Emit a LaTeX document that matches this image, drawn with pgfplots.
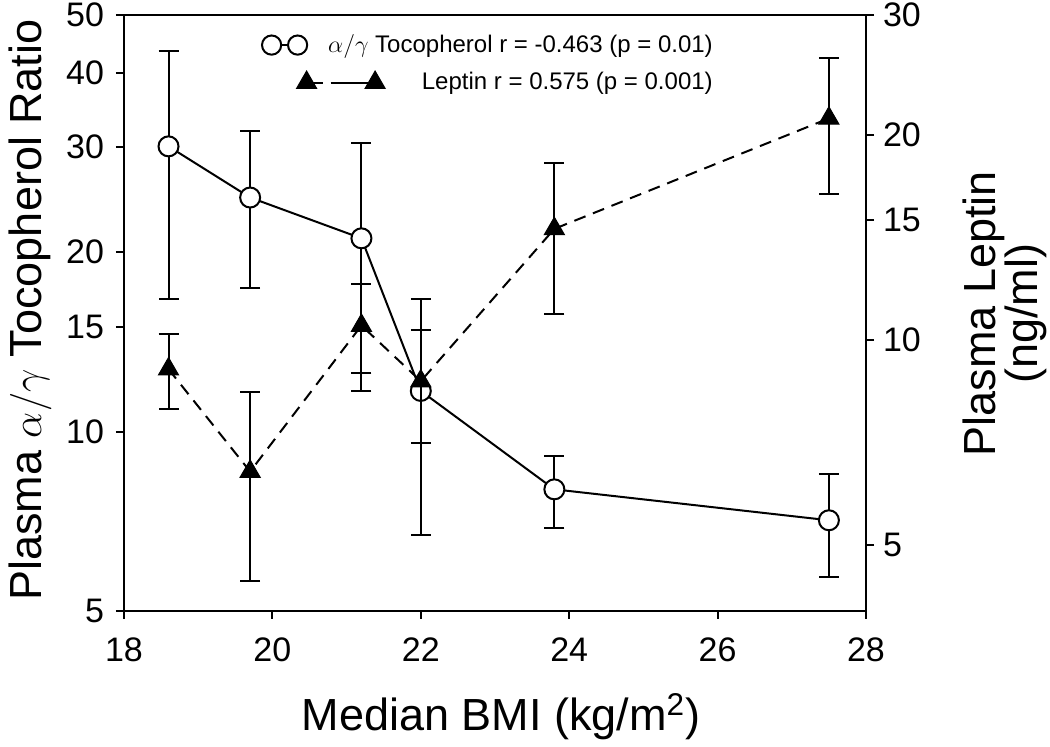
\documentclass[border=0pt]{standalone}
\usepackage{pgfplots}
\usepackage{pgfplotstable}
\pgfplotsset{compat=1.18}
\usepackage{fontspec}
\setmainfont{Liberation Sans}

\pgfplotstableread{
x     toc   tocerr  lep    leperr
18.6  30.1  13.4    9.06   1.13
19.7  24.7  7.3     6.41   1.99
21.2  21.1  9.4     10.5   1.57
22.0  11.7  5.0     8.70   1.65
23.8  8.0   1.1     14.56  3.64
27.5  7.1   1.4     21.15  4.76
}\datatable

\pgfplotsset{
  /pgfplots/mycommonstyle/.style={
    scale only axis, width=371pt, height=298pt,
    xmin=18, xmax=28,
    yminorticks=false,
    tick align=outside, major tick length=4pt,
    axis line style={line width=1pt, black},
    major tick style={line width=1pt, black},
    tick label style={font=\fontsize{17}{17}\selectfont},
    label style={font=\fontsize{22.5}{21}\selectfont},
    /pgf/number format/assume math mode=true,
    clip=false,
  },
}

\begin{document}
\begin{tikzpicture}
\useasboundingbox (-62pt,-67.5pt) rectangle (463pt,305.5pt);
\begin{axis}[mycommonstyle, ymode=log,
  ymin=5, ymax=50,
  xtick={18,20,22,24,26,28}, xticklabels={18,20,22,24,26,28},
  ytick={5,10,15,20,30,40,50}, yticklabels={5,10,15,20,30,40,50},
  xtick pos=left, ytick pos=left,
  xticklabel style={yshift=-6pt},
  yticklabel style={xshift=-2.5pt},
  xlabel={Median BMI (kg/m\textsuperscript{2})},
  ylabel={Plasma $\alpha/\gamma$ Tocopherol Ratio},
  xlabel style={at={(axis description cs:0.508,-0.178)}, anchor=center},
  ylabel style={at={(axis description cs:-0.1267,0.505)}, anchor=center},
]
\addplot[black, line width=1pt, mark=*, mark size=5pt,
  mark options={fill=white, draw=black, line width=1pt},
  error bars/.cd, y dir=both, y explicit,
  error bar style={line width=1pt, black},
  error mark options={rotate=90, line width=1pt, mark size=5pt, black}]
  table[x=x, y=toc, y error=tocerr] {\datatable};
\end{axis}
\begin{axis}[mycommonstyle, ymode=log,
  ymin=4, ymax=30,
  axis y line*=right, hide x axis,
  ytick={5,10,15,20,30}, yticklabels={5,10,15,20,30},
  yticklabel style={xshift=1pt},
  ylabel={Plasma Leptin\\(ng/ml)},
  ylabel style={at={(axis description cs:1.187,0.499)}, anchor=center, align=center},
  legend cell align=right,
  legend style={at={(axis description cs:0.794,0.968)}, anchor=north east,
    draw=none, fill=none, inner sep=0pt,
    nodes={inner sep=0pt},
    font=\fontsize{12}{12}\selectfont,
    row sep=8pt,
    /tikz/every odd column/.append style={column sep=10pt}},
]
\addlegendimage{legend image code/.code={
  \draw[black, solid, line width=1pt] (10pt,0pt) -- (13pt,0pt);
  \draw[black, solid, line width=1pt, fill=white] (5pt,0pt) circle[radius=4.8pt];
  \draw[black, solid, line width=1pt, fill=white] (18pt,0pt) circle[radius=4.8pt];
}}
\addlegendentry{$\alpha/\gamma$ Tocopherol r = -0.463 (p = 0.01)}
\addlegendimage{legend image code/.code={
  \path[draw=none, fill=none] (0pt,-5.5pt) rectangle (23pt,5.5pt);
  \draw[overlay, black, line width=1pt, dash pattern=on 8pt off 4pt on 20pt off 4pt]
    (22.5pt,0pt) -- (56.75pt,0pt);
  \draw[overlay, black, line width=0.5pt, solid, fill=black,
    mark=triangle*, mark size=5.8pt, mark options={solid, fill=black}]
    plot[only marks] coordinates {(22.5pt,0pt) (56.75pt,0pt)};
}}
\addlegendentry{Leptin r = 0.575 (p = 0.001)}
\addplot[forget plot, black, line width=1pt, dash pattern=on 6pt off 4pt,
  mark=triangle*, mark size=5.8pt,
  mark options={solid, fill=black, draw=black, line width=0.5pt},
  error bars/.cd, y dir=both, y explicit,
  error bar style={line width=1pt, black, solid},
  error mark options={rotate=90, line width=1pt, mark size=5pt, black, solid}]
  table[x=x, y=lep, y error=leperr] {\datatable};
\end{axis}
\end{tikzpicture}
\end{document}
